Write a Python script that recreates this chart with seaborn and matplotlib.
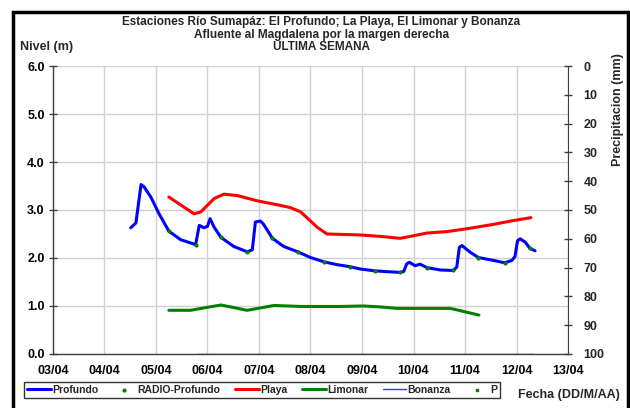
import numpy as np
import pandas as pd
import matplotlib
matplotlib.use("Agg")
import matplotlib.pyplot as plt
import seaborn as sns

# days of April (fractional) and levels in metres
profundo_dia = [4.51, 4.61, 4.71, 4.77, 4.90, 5.06, 5.25, 5.48, 5.77, 5.84, 5.93, 6.00, 6.05, 6.13,
                6.26, 6.51, 6.77, 6.87, 6.93, 7.03, 7.09, 7.26, 7.48, 7.75, 8.00, 8.26, 8.52, 8.76,
                8.97, 9.26, 9.74, 9.81, 9.87, 9.92, 10.03, 10.13, 10.26, 10.52, 10.77, 10.84, 10.89,
                10.94, 11.10, 11.26, 11.55, 11.77, 11.91, 11.97, 12.02, 12.07, 12.17, 12.26, 12.36]
profundo_nivel = [2.63, 2.73, 3.53, 3.48, 3.27, 2.92, 2.56, 2.38, 2.28, 2.68, 2.63, 2.66, 2.82, 2.64,
                  2.43, 2.24, 2.13, 2.17, 2.75, 2.77, 2.70, 2.41, 2.24, 2.13, 2.01, 1.92, 1.86, 1.82,
                  1.77, 1.73, 1.70, 1.72, 1.88, 1.91, 1.84, 1.87, 1.80, 1.75, 1.74, 1.81, 2.22,
                  2.26, 2.12, 2.01, 1.95, 1.90, 1.95, 2.03, 2.36, 2.40, 2.33, 2.20, 2.15]

radio_dia = [5.25, 5.77, 6.26, 6.77, 7.26, 7.75, 8.26, 8.76, 9.26, 9.74, 10.26, 10.77, 11.26, 11.77, 12.26]
radio_nivel = [2.56, 2.28, 2.43, 2.13, 2.41, 2.13, 1.92, 1.82, 1.73, 1.70, 1.80, 1.74, 2.01, 1.90, 2.20]

playa_dia = [5.25, 5.74, 5.87, 6.13, 6.32, 6.58, 6.97, 7.35, 7.61, 7.81, 8.13, 8.32, 8.65, 8.97,
             9.36, 9.74, 9.94, 10.26, 10.65, 11.04, 11.55, 11.94, 12.28]
playa_nivel = [3.27, 2.92, 2.96, 3.24, 3.33, 3.30, 3.19, 3.11, 3.05, 2.96, 2.64, 2.50, 2.49, 2.48,
               2.45, 2.41, 2.45, 2.52, 2.55, 2.61, 2.70, 2.78, 2.84]

limonar_dia = [5.25, 5.67, 5.93, 6.26, 6.45, 6.77, 7.03, 7.29, 7.81, 8.58, 9.03, 9.36, 9.68, 10.71, 10.84, 11.27]
limonar_nivel = [0.91, 0.91, 0.96, 1.02, 0.98, 0.91, 0.96, 1.01, 0.99, 0.99, 1.00, 0.98, 0.95, 0.95, 0.92, 0.81]

bonanza_dia = [5.79, 7.0, 8.0, 9.0, 10.0, 11.0, 12.32]
bonanza_nivel = [0.0, 0.0, 0.0, 0.0, 0.0, 0.0, 0.0]

dias_ticks = list(range(3, 14))
dias_labels = ["03/04", "04/04", "05/04", "06/04", "07/04", "08/04", "09/04",
               "10/04", "11/04", "12/04", "13/04"]

sns.set_style("white")
plt.rcParams['font.family'] = ['Liberation Sans', 'DejaVu Sans']
plt.rcParams['font.weight'] = 'bold'

fig = plt.figure(figsize=(6.3, 4.08), dpi=100)
ax = fig.add_axes([0.0841, 0.1324, 0.8175, 0.7058])

sns.lineplot(x=profundo_dia, y=profundo_nivel, ax=ax, color='#0000ff', lw=2.2, label='Profundo', sort=False)
sns.scatterplot(x=radio_dia, y=radio_nivel, ax=ax, color='#008000', s=9, linewidth=0, label='RADIO-Profundo', zorder=5)
sns.lineplot(x=playa_dia, y=playa_nivel, ax=ax, color='#ff0000', lw=2.2, label='Playa', sort=False)
sns.lineplot(x=limonar_dia, y=limonar_nivel, ax=ax, color='#008000', lw=2.2, label='Limonar', sort=False)
sns.lineplot(x=bonanza_dia, y=bonanza_nivel, ax=ax, color='#3333ff', lw=1.0, label='Bonanza', sort=False)
ax.scatter([], [], color='#008000', s=4, marker='s', label='P')

ax.set_xlim(3, 13)
ax.set_ylim(0, 6)
ax.set_xticks(dias_ticks)
ax.set_xticklabels(dias_labels)
ax.set_yticks(np.arange(0, 7, 1))
ax.set_yticklabels([f"{v:.1f}" for v in np.arange(0, 7, 1)])
ax.grid(True, color='#d0d0d0', lw=1.0)
ax.set_axisbelow(True)
for s in ['top', 'right']:
    ax.spines[s].set_visible(False)
for s in ['left', 'bottom']:
    ax.spines[s].set_color('#404040')
    ax.spines[s].set_linewidth(1.0)
ax.tick_params(axis='both', labelsize=9, colors='black', direction='inout', length=6, width=1, color='#404040')
ax.tick_params(axis='y', pad=3)
ax.tick_params(axis='x', length=0, pad=8)
ax.set_xlabel('')
ax.set_ylabel('')

ax2 = ax.twinx()
ax2.set_ylim(100, 0)
ax2.set_yticks(range(0, 101, 10))
for s in ['top', 'left', 'bottom']:
    ax2.spines[s].set_visible(False)
ax2.spines['right'].set_color('#404040')
ax2.tick_params(axis='y', labelsize=9, direction='inout', length=6, width=1, color='#404040', pad=8)
ax2.set_ylabel('Precipitacion (mm)', fontsize=9, fontweight='bold')
ax2.yaxis.set_label_coords(1.085, 0.85)

ax.get_legend().remove()
h, l = ax.get_legend_handles_labels()
leg = fig.legend(h, l, ncol=6, loc='center', bbox_to_anchor=(0.416, 0.045), fontsize=7.5,
                 frameon=True, fancybox=False, edgecolor='black', handlelength=2.3,
                 handletextpad=0.1, columnspacing=1.4, borderpad=0.3, markerscale=1.0)
leg.get_frame().set_linewidth(1.0)

fig.text(0.51, 0.947, 'Estaciones Río Sumapáz: El Profundo; La Playa, El Limonar y Bonanza',
         ha='center', va='center', fontsize=8.5, fontweight='bold')
fig.text(0.51, 0.915, 'Afluente al Magdalena por la margen derecha',
         ha='center', va='center', fontsize=8.5, fontweight='bold')
fig.text(0.51, 0.884, 'ULTIMA SEMANA', ha='center', va='center', fontsize=8.5, fontweight='bold')
fig.text(0.032, 0.885, 'Nivel (m)', ha='left', va='center', fontsize=9, fontweight='bold')
fig.text(0.822, 0.032, 'Fecha (DD/M/AA)', ha='left', va='center', fontsize=9, fontweight='bold')

# outer frame
fig.patches.append(plt.Rectangle((0.0206, -0.01), 0.976, 0.981, transform=fig.transFigure,
                                 fill=False, edgecolor='black', lw=2.5))

plt.savefig('out.png', dpi=100)
